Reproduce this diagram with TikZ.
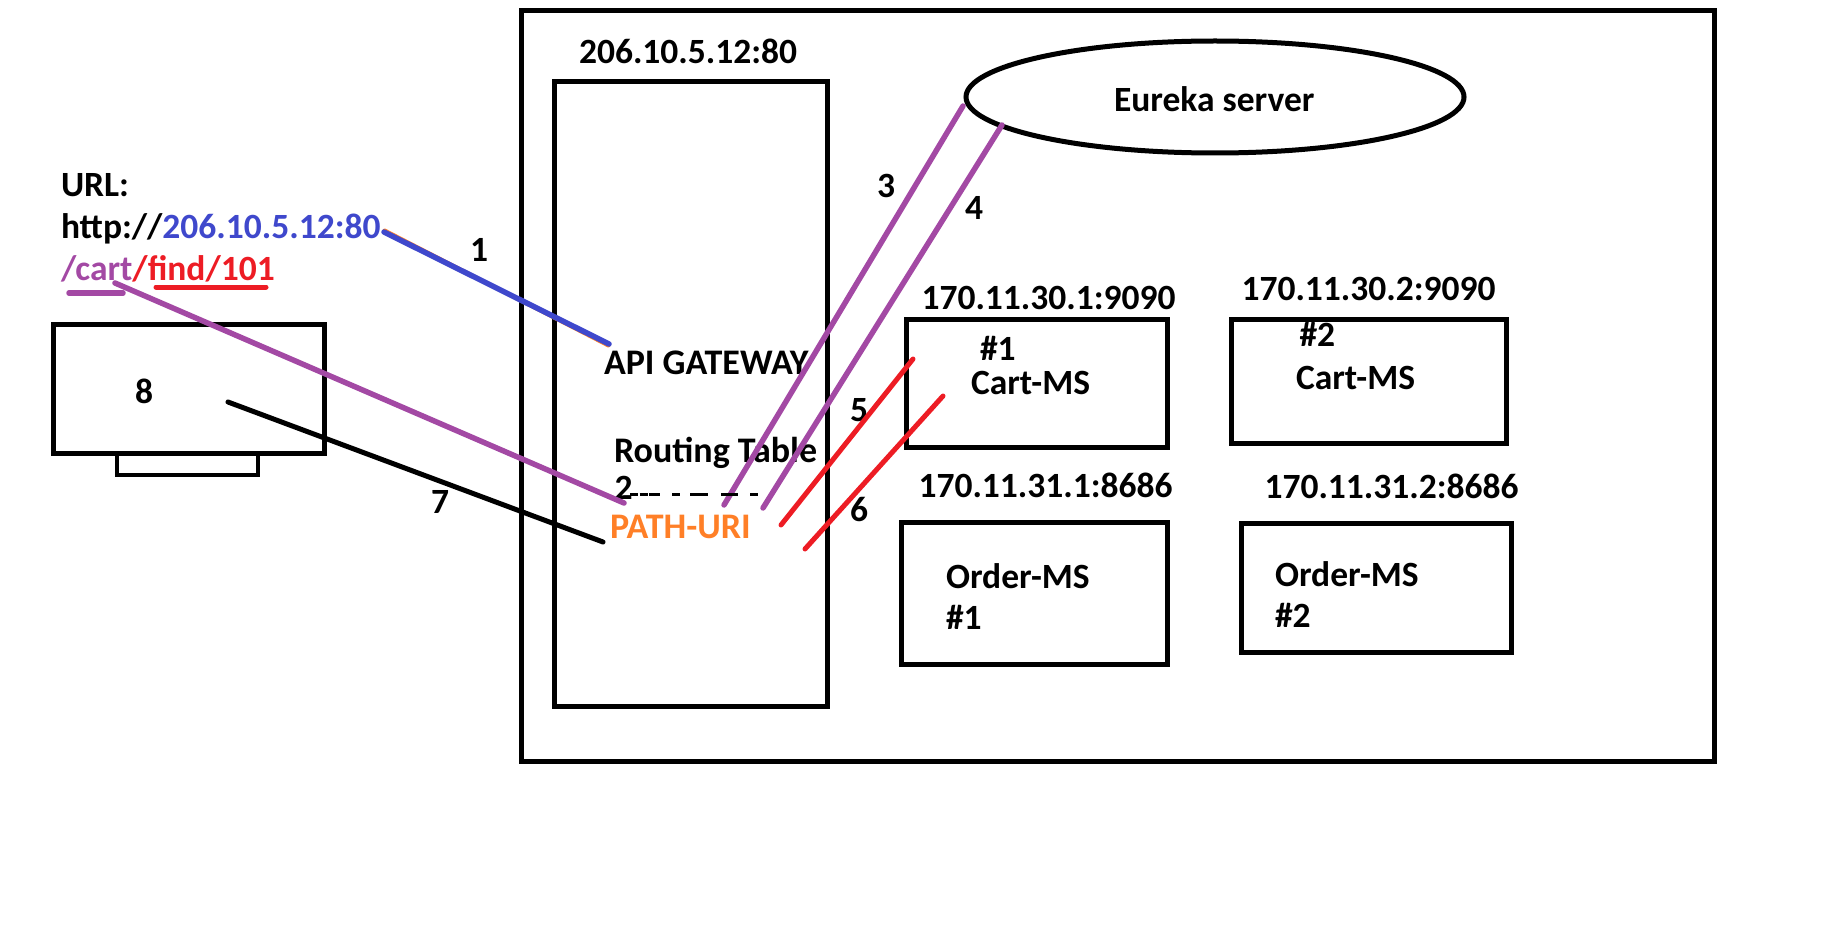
\documentclass[tikz,border=0pt]{standalone}
\usepackage{fontspec}
\setmainfont{Carlito}
\usetikzlibrary{shapes.geometric}
\definecolor{pblue}{HTML}{3F48CC}
\definecolor{ppurple}{HTML}{A349A4}
\definecolor{pred}{HTML}{ED1C24}
\definecolor{porange}{HTML}{FF7F27}
\tikzset{
  bx/.style={draw=black,line width=5pt,inner sep=0,outer sep=0,fill=none,rectangle},
  thinbx/.style={bx,line width=4pt},
  txt/.style={anchor=base west,inner sep=0,outer sep=0,font=\fontsize{35.5}{42}\selectfont\bfseries},
  widetxt/.style={txt,font=\fontsize{36}{42}\selectfont\bfseries},
  ctxt/.style={txt,anchor=base},
  wire/.style={line width=5pt,line cap=round},
  wirepurple/.style={wire,draw=ppurple,line width=5.5pt},
  wirered/.style={wire,draw=pred},
  wireblack/.style={wire,draw=black},
  wireblue/.style={wire,draw=pblue,line width=5.5pt},
  wireorange/.style={line width=5pt,line cap=round,draw=porange},
  pathsep/.style={draw=black,line width=3pt,dash pattern=on 8pt off 1.5pt on 8pt off 1.5pt on 11pt off 12pt on 8pt off 10pt on 18pt off 13pt on 17pt off 12pt on 8pt off 100pt}
}
\begin{document}
\begin{tikzpicture}[x=1pt,y=-1pt]
\useasboundingbox (0,0) rectangle (1844,944);
% boxes
\node[bx,minimum width=1193pt,minimum height=750pt] (outer) at (1117.5,386) {};
\node[bx,minimum width=273pt,minimum height=624pt] (gateway) at (690.5,394) {};
\node[draw=black,line width=5pt,ellipse,inner sep=0,minimum width=498pt,minimum height=112pt] (eureka) at (1215,97) {};
\node[bx,minimum width=271pt,minimum height=129pt] (monitor) at (189,388.5) {};
\node[thinbx,minimum width=141pt,minimum height=22pt,anchor=north] (stand) at (187,453) {};
\node[bx,minimum width=261pt,minimum height=128pt] (cartone) at (1036.5,383) {};
\node[bx,minimum width=275pt,minimum height=124pt] (carttwo) at (1369,381) {};
\node[bx,minimum width=266pt,minimum height=142pt] (orderone) at (1034,593.5) {};
\node[bx,minimum width=270pt,minimum height=129pt] (ordertwo) at (1376,588) {};
% text
\node[txt] (urllabel) at (61,196.5) {URL:};
\node[txt] (urlhost) at (61,238.5) {http://\textcolor{pblue}{206.10.5.12:80}};
\node[txt] (urlpath) at (61,280) {\textcolor{ppurple}{/cart}\textcolor{pred}{/find/101}};
\node[txt] (gwaddr) at (579,63.5) {206.10.5.12:80};
\node[txt] (eurekatxt) at (1114,111.5) {Eureka server};
\node[widetxt] (apigw) at (604,374) {API GATEWAY};
\node[widetxt] (routing) at (614,462) {Routing Table};
\node[widetxt,text=porange] (pathuri) at (610,538) {PATH-URI};
\node[txt] (addrA) at (921.5,309) {170.11.30.1:9090};
\node[txt] (addrB) at (1241.5,300) {170.11.30.2:9090};
\node[txt] (addrC) at (918.5,497) {170.11.31.1:8686};
\node[txt] (addrD) at (1264.5,498.5) {170.11.31.2:8686};
\node[txt] (hashA) at (980,360) {\#1};
\node[txt] (cartA) at (971,394.5) {Cart-MS};
\node[txt] (hashB) at (1299.5,346) {\#2};
\node[txt] (cartB) at (1296,389) {Cart-MS};
\node[txt] (orderA) at (946,588) {Order-MS};
\node[txt] (hashC) at (946,629) {\#1};
\node[txt] (orderB) at (1275,586.5) {Order-MS};
\node[txt] (hashD) at (1275,627.5) {\#2};
\node[ctxt] (numone) at (479,261) {1};
\node[ctxt] (numtwo) at (623.5,499) {2};
\node[ctxt] (numthree) at (886,197) {3};
\node[ctxt] (numfour) at (974,219) {4};
\node[ctxt] (numfive) at (859,421) {5};
\node[ctxt] (numsix) at (859,521) {6};
\node[ctxt] (numseven) at (440,513) {7};
\node[ctxt] (numeight) at (144,403) {8};
% connector ends
\coordinate (blueA) at (384,232);
\coordinate (blueB) at (609,344);
\coordinate (purA) at (115,283);
\coordinate (purB) at (624,503);
\coordinate (ulpA) at (69,293);
\coordinate (ulpB) at (123,293);
\coordinate (ulrA) at (156,287);
\coordinate (ulrB) at (266,287);
\coordinate (blkA) at (228,402);
\coordinate (blkB) at (603,542);
\coordinate (threeA) at (963,106);
\coordinate (threeB) at (724,505);
\coordinate (fourA) at (1002,125);
\coordinate (fourB) at (763,508);
\coordinate (fiveA) at (913,359);
\coordinate (fiveB) at (781,525);
\coordinate (sixA) at (943,396);
\coordinate (sixB) at (805,549);
\coordinate (dashA) at (630,494);
\coordinate (dashB) at (762,494);
% connectors
\draw[wireorange,line width=4pt] ([xshift=0.6pt,yshift=1.5pt]blueA) -- ([xshift=-0.6pt,yshift=-1.5pt]blueB);
\draw[wireblue] (blueA) -- (blueB);
\draw[wirepurple] (purA) -- (purB);
\draw[wireorange,line width=4pt] (ulpA) -- +(8,0);
\draw[wirepurple] (ulpA) -- (ulpB);
\draw[wirered] (ulrA) -- (ulrB);
\draw[wireblack] (blkA) -- (blkB);
\draw[wirepurple] (threeA) -- (threeB);
\draw[wirepurple] (fourA) -- (fourB);
\draw[wirered] (fiveA) -- (fiveB);
\draw[wirered] (sixA) -- (sixB);
\draw[pathsep] (dashA) -- (dashB);
\end{tikzpicture}
\end{document}
